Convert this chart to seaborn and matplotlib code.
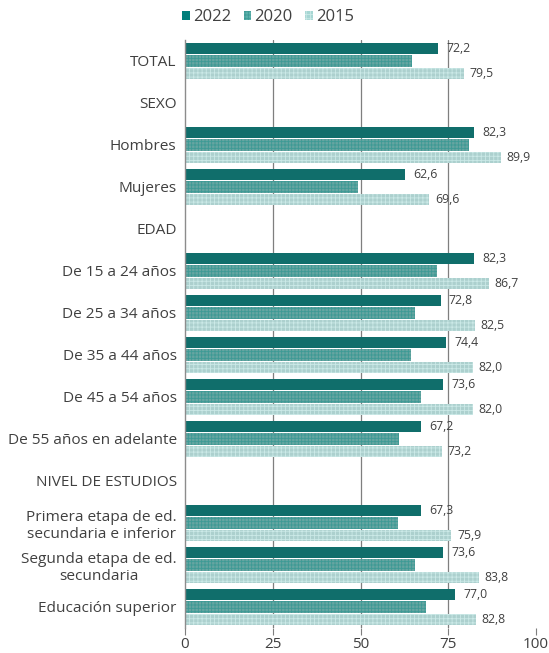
import numpy as np
import pandas as pd
import matplotlib
matplotlib.use("Agg")
import matplotlib.pyplot as plt
import seaborn as sns
from matplotlib.patches import Patch

nan = np.nan

categories = [
    "TOTAL", "SEXO", "Hombres", "Mujeres", "EDAD",
    "De 15 a 24 años", "De 25 a 34 años", "De 35 a 44 años",
    "De 45 a 54 años", "De 55 años en adelante", "NIVEL DE ESTUDIOS",
    "Primera etapa de ed.\nsecundaria e inferior",
    "Segunda etapa de ed.\nsecundaria", "Educación superior",
]
years = ["2022", "2020", "2015"]
v2022 = [72.2, nan, 82.3, 62.6, nan, 82.3, 72.8, 74.4, 73.6, 67.2, nan, 67.3, 73.6, 77.0]
v2020 = [64.7, nan, 80.9, 49.2, nan, 71.9, 65.5, 64.3, 67.1, 60.9, nan, 60.6, 65.4, 68.8]
v2015 = [79.5, nan, 89.9, 69.6, nan, 86.7, 82.5, 82.0, 82.0, 73.2, nan, 75.9, 83.8, 82.8]
x_ticks = [0, 25, 50, 75, 100]

df = pd.DataFrame({
    "categoria": categories * 3,
    "anio": [y for y in years for _ in categories],
    "valor": v2022 + v2020 + v2015,
})

sns.set_theme(style="white")
plt.rcParams["font.family"] = ["Open Sans", "DejaVu Sans"]
plt.rcParams["hatch.linewidth"] = 0.6

text_color = "#404040"
face = {"2022": "#007e7a", "2020": "#5cafaa", "2015": "#a6d6d3"}
hatch_col = {"2020": "#3d9a95", "2015": "#cbe9e7"}
hatches = {"2022": None, "2020": "+++++", "2015": "++++"}

fig = plt.figure(figsize=(5.49, 6.53), dpi=100)
ax = fig.add_axes([185 / 549, 25 / 653, 351 / 549, 588 / 653])

sns.barplot(data=df, y="categoria", x="valor", hue="anio", order=categories,
            hue_order=years, palette=face, orient="h", width=0.88, gap=0.08,
            errorbar=None, legend=False, ax=ax)


def style_bar(p, year):
    if hatches[year]:
        p.set_hatch(hatches[year])
        p.set_edgecolor(hatch_col[year])
    p.set_linewidth(0)


for year, cont in zip(years, ax.containers):
    for p in cont:
        style_bar(p, year)

fmt = lambda v: f"{v:.1f}".replace(".", ",")
ax.bar_label(ax.containers[0], fmt=fmt, padding=6, fontsize=8.8, color=text_color)
ax.bar_label(ax.containers[2], fmt=fmt, padding=4, fontsize=8.8, color=text_color)

ax.set_xlim(0, 100)
ax.set_ylim(len(categories) - 0.5, -0.5)
ax.set_xticks(x_ticks)
ax.set_xticklabels([str(t) for t in x_ticks], fontsize=11, color=text_color)
ax.set_xlabel("")
ax.set_ylabel("")

for lbl in ax.get_yticklabels():
    lbl.set_multialignment("center")
    lbl.set_fontsize(11.1)
    lbl.set_color(text_color)

ax.tick_params(axis="y", length=0, pad=6)
ax.tick_params(axis="x", length=5, width=0.8, color="#7f7f7f", pad=1.5, bottom=True)

for v in x_ticks[1:-1]:
    ax.axvline(v, color="#7f7f7f", lw=0.9, zorder=0)

for s in ["top", "right", "bottom"]:
    ax.spines[s].set_visible(False)
ax.spines["left"].set_color("#8c8c8c")
ax.spines["left"].set_linewidth(1)

handles = []
for y in years:
    h = Patch(facecolor=face[y], label=y, linewidth=0)
    if hatches[y]:
        h.set_hatch(hatches[y])
        h.set_edgecolor(hatch_col[y])
        h.set_linewidth(0)
    handles.append(h)
fig.legend(handles=handles, loc="center", bbox_to_anchor=(268 / 549, 1 - 17 / 653),
           ncol=3, frameon=False, fontsize=12, handlelength=0.45, handleheight=0.45,
           handletextpad=0.2, columnspacing=0.75, labelcolor=text_color)

fig.savefig("out.png", dpi=100)
